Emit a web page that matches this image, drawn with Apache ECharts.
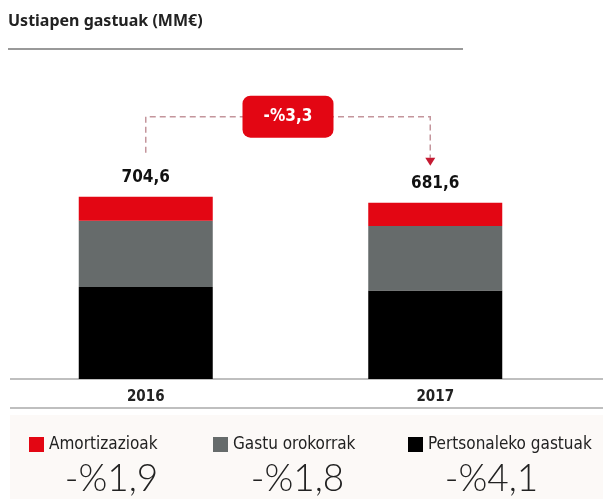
<!DOCTYPE html>
<html>
<head>
<meta charset="utf-8">
<script src="https://cdn.jsdelivr.net/npm/echarts@6/dist/echarts.min.js"></script>
<style>
	html, body { margin: 0; padding: 0; background: #fff; }
	#chart-area { width: 603px; height: 499px; }
</style>
</head>
<body>
<div id="chart-area"></div>
<script>
// datuak
const years = ['2016', '2017']
const totals = [704.6, 681.6]
const amortizazioak = [93, 90]
const gastuOrokorrak = [255.6, 250]
const pertsonalekoGastuak = [356, 341.6]
const seriesNames = ['Amortizazioak', 'Gastu orokorrak', 'Pertsonaleko gastuak']
const changes = ['-%1,9', '-%1,8', '-%4,1']
const totalChange = '-%3,3'

const RED = '#e30613'
const GREY = '#666b6b'
const condensed = '"DejaVu Sans Condensed", "DejaVu Sans", sans-serif'
const fmt = (v) => String(v).replace('.', ',')

const myChart = echarts.init(document.getElementById('chart-area'))

let option = {
	animation: false,
	title: {
		text: 'Ustiapen gastuak (MM€)',
		left: 8,
		top: 13,
		padding: 0,
		textStyle: { fontFamily: '"Noto Sans", sans-serif', fontSize: 16, fontWeight: 'bold', color: '#222' }
	},
	legend: seriesNames.map((name, i) => ({
		data: [name],
		left: [29, 213, 408][i],
		top: 436,
		padding: 0,
		itemWidth: 15,
		itemHeight: 15,
		icon: 'rect',
		selectedMode: false,
		textStyle: { fontFamily: condensed, fontSize: 17, color: '#222' }
	})),
	grid: { left: 1, right: 23, top: 172, bottom: 120 },
	xAxis: {
		type: 'category',
		data: years,
		axisLine: { show: false },
		axisTick: { show: false },
		axisLabel: { margin: 11, fontFamily: condensed, fontSize: 15, fontWeight: 'bold', color: '#222' }
	},
	yAxis: { type: 'value', show: false, min: 0, max: 800 },
	series: [
		{
			name: 'Pertsonaleko gastuak',
			type: 'bar',
			stack: 'total',
			barWidth: 134,
			itemStyle: { color: '#000' },
			data: pertsonalekoGastuak
		},
		{
			name: 'Gastu orokorrak',
			type: 'bar',
			stack: 'total',
			itemStyle: { color: GREY },
			data: gastuOrokorrak
		},
		{
			name: 'Amortizazioak',
			type: 'bar',
			stack: 'total',
			itemStyle: { color: RED },
			label: {
				show: true,
				position: 'top',
				distance: 11,
				formatter: (p) => fmt(totals[p.dataIndex]),
				fontFamily: condensed,
				fontSize: 17,
				fontWeight: 'bold',
				color: '#111'
			},
			data: amortizazioak
		}
	]
}
myChart.setOption(option)

// geziak eta apaingarriak, barren goiko puntuetatik kalkulatuta
const p16 = myChart.convertToPixel({ gridIndex: 0 }, [0, totals[0]])
const p17 = myChart.convertToPixel({ gridIndex: 0 }, [1, totals[1]])
const lineY = p16[1] - 80
const leftX = p16[0]
const rightX = p17[0] - 5
const tipY = p17[1] - 37
const boxW = 91, boxH = 42
const boxCx = (leftX + rightX) / 2
const dashStyle = { stroke: '#c4959c', lineWidth: 1.5, lineDash: [6, 4], fill: null }

const graphic = [
	{ type: 'rect', z: -10, silent: true, shape: { x: 10, y: 415, width: 593, height: 84 }, style: { fill: '#fcf9f7' } },
	{ type: 'line', shape: { x1: 8, y1: 49, x2: 463, y2: 49 }, style: { stroke: '#777', lineWidth: 1.5 } },
	{ type: 'line', shape: { x1: 10, y1: 379, x2: 603, y2: 379 }, style: { stroke: '#aaa', lineWidth: 1.5 } },
	{ type: 'line', shape: { x1: 10, y1: 408, x2: 603, y2: 408 }, style: { stroke: '#aaa', lineWidth: 1.5 } },
	{ type: 'polyline', shape: { points: [[leftX, p16[1] - 44], [leftX, lineY], [boxCx, lineY]] }, style: dashStyle },
	{ type: 'polyline', shape: { points: [[boxCx, lineY], [rightX, lineY], [rightX, tipY - 8]] }, style: dashStyle },
	{ type: 'polygon', shape: { points: [[rightX - 5, tipY - 8], [rightX + 5, tipY - 8], [rightX, tipY]] }, style: { fill: '#c51a32' } },
	{
		type: 'rect', z: 10,
		shape: { x: boxCx - boxW / 2, y: lineY - boxH / 2, width: boxW, height: boxH, r: 8 },
		style: { fill: RED }
	},
	{
		type: 'text', z: 11,
		x: boxCx, y: lineY,
		style: { text: totalChange, fill: '#fff', fontFamily: condensed, fontSize: 17, fontWeight: 'bold', align: 'center', verticalAlign: 'middle' }
	}
]
changes.forEach((c, i) => {
	graphic.push({
		type: 'text',
		x: [111.5, 297.5, 491.5][i],
		y: 479,
		style: { text: c, fill: '#222', fontFamily: 'Lato, sans-serif', fontWeight: 300, fontSize: 37, align: 'center', verticalAlign: 'middle' }
	})
})
myChart.setOption({ graphic: graphic })
</script>
</body>
</html>
